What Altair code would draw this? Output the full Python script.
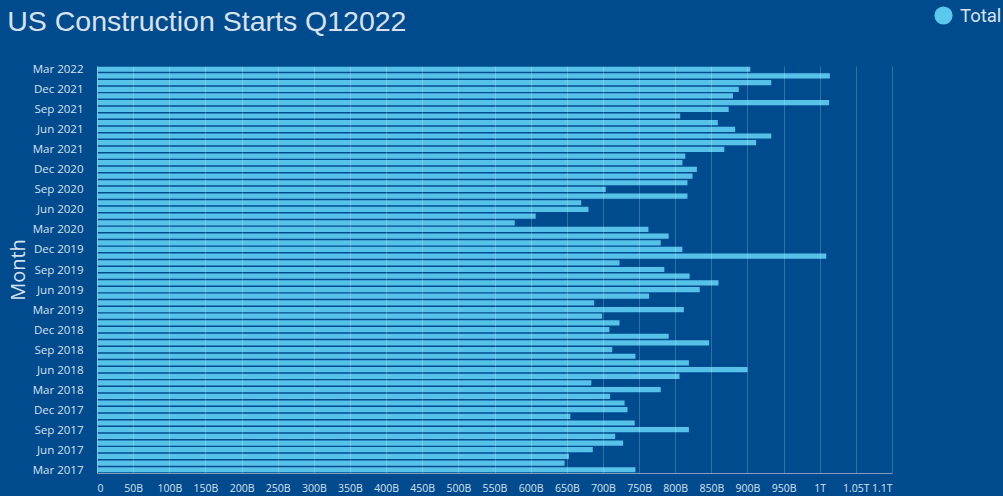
import altair as alt
import pandas as pd

# Months, top (latest) to bottom (earliest)
months = [
    "Mar 2022", "Feb 2022", "Jan 2022", "Dec 2021", "Nov 2021", "Oct 2021", "Sep 2021",
    "Aug 2021", "Jul 2021", "Jun 2021", "May 2021", "Apr 2021", "Mar 2021", "Feb 2021",
    "Jan 2021", "Dec 2020", "Nov 2020", "Oct 2020", "Sep 2020", "Aug 2020", "Jul 2020",
    "Jun 2020", "May 2020", "Apr 2020", "Mar 2020", "Feb 2020", "Jan 2020", "Dec 2019",
    "Nov 2019", "Oct 2019", "Sep 2019", "Aug 2019", "Jul 2019", "Jun 2019", "May 2019",
    "Apr 2019", "Mar 2019", "Feb 2019", "Jan 2019", "Dec 2018", "Nov 2018", "Oct 2018",
    "Sep 2018", "Aug 2018", "Jul 2018", "Jun 2018", "May 2018", "Apr 2018", "Mar 2018",
    "Feb 2018", "Jan 2018", "Dec 2017", "Nov 2017", "Oct 2017", "Sep 2017", "Aug 2017",
    "Jul 2017", "Jun 2017", "May 2017", "Apr 2017", "Mar 2017",
]

# Total construction starts, in billions of dollars
totals_billion = [
    904, 1014, 933, 888, 880, 1013, 874,
    807, 859, 883, 933, 912, 868, 814,
    810, 830, 824, 817, 704, 817, 670,
    680, 607, 578, 763, 791, 780, 810,
    1009, 723, 785, 820, 860, 834, 764,
    688, 812, 699, 723, 709, 791, 847,
    713, 745, 819, 900, 806, 684, 780,
    710, 730, 734, 655, 744, 819, 717,
    728, 686, 653, 647, 745,
]

series_name = ["Total"]

tick_labels = ["Mar 2022", "Dec 2021", "Sep 2021", "Jun 2021", "Mar 2021", "Dec 2020",
               "Sep 2020", "Jun 2020", "Mar 2020", "Dec 2019", "Sep 2019", "Jun 2019",
               "Mar 2019", "Dec 2018", "Sep 2018", "Jun 2018", "Mar 2018", "Dec 2017",
               "Sep 2017", "Jun 2017", "Mar 2017"]

x_ticks = [i * 50e9 for i in range(23)]

df = pd.DataFrame({
    "Month": months,
    "Value": [v * 1e9 for v in totals_billion],
    "Series": series_name * len(months),
})

bg = "#004b8d"
bar_color = "#5bc8ee"
text_color = "#d8e2ee"

chart = alt.Chart(df).mark_bar(opacity=0.95).encode(
    x=alt.X(
        "Value:Q",
        scale=alt.Scale(domain=[0, 1.1e12], nice=False),
        axis=alt.Axis(
            values=x_ticks,
            title=None,
            labelExpr="datum.value == 0 ? '0' : (datum.value < 1e12 ? round(datum.value/1e9) + 'B' : (round(datum.value/1e10)/100) + 'T')",
            grid=True,
            gridColor="#ffffff",
            gridOpacity=0.2,
            ticks=False,
            domainColor="#7f9cc2",
            labelColor=text_color,
            labelFont="Open Sans",
            labelFontSize=10.5,
            labelPadding=10,
            labelOverlap=False,
            zindex=1,
        ),
    ),
    y=alt.Y(
        "Month:N",
        sort=months,
        scale=alt.Scale(paddingInner=0.22, paddingOuter=0.1),
        axis=alt.Axis(
            values=tick_labels,
            title="Month",
            titleFont="Open Sans",
            titleFontSize=20,
            titleFontWeight="normal",
            titleColor=text_color,
            titlePadding=4,
            ticks=False,
            domainColor="#7f9cc2",
            labelColor=text_color,
            labelFont="Open Sans",
            labelFontSize=11.5,
            labelPadding=14,
            labelBaseline="middle",
            labelOffset=1,
            grid=False,
        ),
    ),
    color=alt.Color(
        "Series:N",
        scale=alt.Scale(domain=series_name, range=[bar_color]),
        legend=alt.Legend(
            title=None,
            orient="none",
            legendX=837,
            legendY=-60,
            symbolType="circle",
            symbolSize=330,
            symbolStrokeWidth=0,
            symbolOpacity=1,
            labelColor=text_color,
            labelFont="Roboto",
            labelFontSize=18.5,
            labelOffset=7,
            padding=0,
        ),
    ),
).properties(
    width=795,
    height=407,
    background=bg,
    autosize=alt.AutoSizeParams(type="none"),
    padding={"left": 97, "top": 66, "right": 111, "bottom": 23},
    title=alt.TitleParams(
        "US Construction Starts Q12022",
        anchor="start",
        dx=-1,
        dy=60,
        offset=30,
        font="Liberation Sans",
        fontSize=28.5,
        fontWeight="normal",
        color=text_color,
    ),
).configure_view(stroke=None)

chart.save("out.html", embed_options={"renderer": "svg", "actions": False})
